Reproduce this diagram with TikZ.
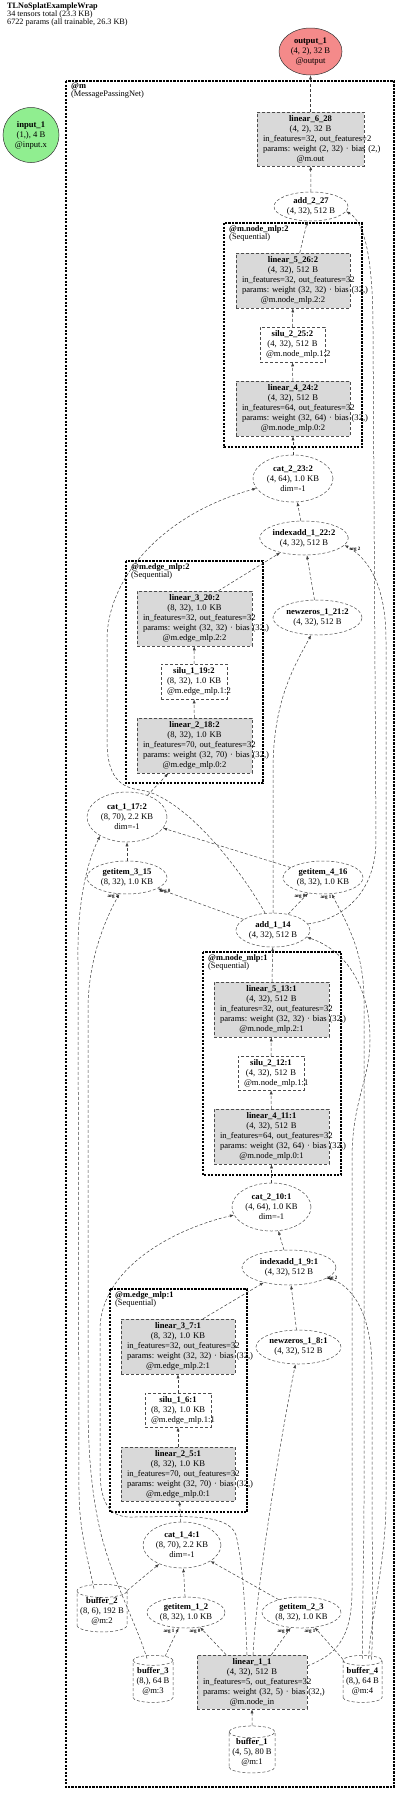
\documentclass[tikz,border=0pt]{standalone}
\usepackage{fontspec}
\setmainfont{Liberation Serif}
\usepackage{xcolor}
\usetikzlibrary{arrows.meta}
\usetikzlibrary{shapes.geometric}
\frenchspacing

\definecolor{outfill}{HTML}{F48A8A}
\definecolor{infill}{HTML}{90EE90}
\definecolor{linfill}{HTML}{D9D9D9}

\tikzset{
  nodebox/.style={draw=black!70, line width=0.5pt, dash pattern=on 3pt off 2pt,
    inner sep=0pt, align=center, font=\fontsize{8.6}{10}\selectfont},
  linbox/.style={nodebox, rectangle, fill=linfill},
  silubox/.style={nodebox, rectangle, fill=white},
  opnode/.style={nodebox, ellipse, fill=white},
  bufnode/.style={nodebox, cylinder, shape border rotate=90, aspect=0.3, fill=white},
  ionode/.style={ellipse, draw=black!80, line width=0.5pt, inner sep=0pt,
    align=center, font=\fontsize{8.6}{10}\selectfont},
  cluster/.style={draw=black, line width=2.6pt, dash pattern=on 2.2pt off 1.3pt},
  clabel/.style={anchor=north west, inner sep=0pt, align=left,
    font=\fontsize{8.4}{8}\selectfont},
  arglabel/.style={inner sep=0pt, font=\fontsize{5}{5}\selectfont\bfseries},
  edge/.style={draw=black!75, line width=0.5pt, dash pattern=on 3pt off 2pt,
    -{Latex[length=4pt,width=3pt]}}
}

\begin{document}
\begin{tikzpicture}[x=1pt,y=-1pt]
\useasboundingbox (0,0) rectangle (400,1794);

% title
\node[anchor=north west, inner sep=0pt, align=left, font=\fontsize{8.2}{7.8}\selectfont] (title) at (7,3)
  {\textbf{TLNoSplatExampleWrap}\\34 tensors total (23.3 KB)\\6722 params (all trainable, 26.3 KB)};

% input and output
\node[ionode, fill=outfill, minimum width=63pt, minimum height=47pt] (out1) at (310.5,51.5)
  {\textbf{output\_1}\\(4, 2), 32 B\\@output};
\node[ionode, fill=infill, minimum width=56pt, minimum height=55pt] (in1) at (31,135)
  {\textbf{input\_1}\\(1,), 4 B\\@input.x};

% second layer
\node[linbox, minimum width=107pt, minimum height=54pt, text width=95pt] (lin628) at (310.5,139)
  {\mbox{\textbf{linear\_6\_28}}\\\mbox{(4, 2), 32 B}\\\mbox{in\_features=32, out\_features=2}\\\mbox{params: weight (2, 32) · bias (2,)}\\\mbox{@m.out}};
\node[opnode, minimum width=74pt, minimum height=29pt] (add227) at (311,206.5)
  {\textbf{add\_2\_27}\\(4, 32), 512 B};
\node[linbox, minimum width=114pt, minimum height=55pt, text width=102pt] (lin5262) at (293,280.5)
  {\mbox{\textbf{linear\_5\_26:2}}\\\mbox{(4, 32), 512 B}\\\mbox{in\_features=32, out\_features=32}\\\mbox{params: weight (32, 32) · bias (32,)}\\\mbox{@m.node\_mlp.2:2}};
\node[silubox, minimum width=65pt, minimum height=35pt, text width=53pt] (silu2252) at (292.5,344.5)
  {\mbox{\textbf{silu\_2\_25:2}}\\\mbox{(4, 32), 512 B}\\\mbox{@m.node\_mlp.1:2}};
\node[linbox, minimum width=114pt, minimum height=55pt, text width=102pt] (lin4242) at (293,408.5)
  {\mbox{\textbf{linear\_4\_24:2}}\\\mbox{(4, 32), 512 B}\\\mbox{in\_features=64, out\_features=32}\\\mbox{params: weight (32, 64) · bias (32,)}\\\mbox{@m.node\_mlp.0:2}};
\node[opnode, minimum width=80pt, minimum height=47pt] (cat2232) at (293,478.5)
  {\textbf{cat\_2\_23:2}\\(4, 64), 1.0 KB\\dim=-1};
\node[opnode, minimum width=88pt, minimum height=34pt] (idx1222) at (304,538)
  {\textbf{indexadd\_1\_22:2}\\(4, 32), 512 B};
\node[opnode, minimum width=89pt, minimum height=35pt] (nz1212) at (317.5,617.5)
  {\textbf{newzeros\_1\_21:2}\\(4, 32), 512 B};
\node[linbox, minimum width=115pt, minimum height=55pt, text width=103pt] (lin3202) at (194.5,618.5)
  {\mbox{\textbf{linear\_3\_20:2}}\\\mbox{(8, 32), 1.0 KB}\\\mbox{in\_features=32, out\_features=32}\\\mbox{params: weight (32, 32) · bias (32,)}\\\mbox{@m.edge\_mlp.2:2}};
\node[silubox, minimum width=66pt, minimum height=35pt, text width=54pt] (silu1192) at (194,681.5)
  {\mbox{\textbf{silu\_1\_19:2}}\\\mbox{(8, 32), 1.0 KB}\\\mbox{@m.edge\_mlp.1:2}};
\node[linbox, minimum width=115pt, minimum height=55pt, text width=103pt] (lin2182) at (194.5,745.5)
  {\mbox{\textbf{linear\_2\_18:2}}\\\mbox{(8, 32), 1.0 KB}\\\mbox{in\_features=70, out\_features=32}\\\mbox{params: weight (32, 70) · bias (32,)}\\\mbox{@m.edge\_mlp.0:2}};
\node[opnode, minimum width=80pt, minimum height=50pt] (cat1172) at (127,817)
  {\textbf{cat\_1\_17:2}\\(8, 70), 2.2 KB\\dim=-1};
\node[opnode, minimum width=80pt, minimum height=33pt] (gi315) at (127,877.5)
  {\textbf{getitem\_3\_15}\\(8, 32), 1.0 KB};
\node[opnode, minimum width=80pt, minimum height=33pt] (gi416) at (323,877.5)
  {\textbf{getitem\_4\_16}\\(8, 32), 1.0 KB};

% first layer
\node[opnode, minimum width=74pt, minimum height=34pt] (add114) at (273,930)
  {\textbf{add\_1\_14}\\(4, 32), 512 B};
\node[linbox, minimum width=115pt, minimum height=55pt, text width=103pt] (lin5131) at (271.5,1009.5)
  {\mbox{\textbf{linear\_5\_13:1}}\\\mbox{(4, 32), 512 B}\\\mbox{in\_features=32, out\_features=32}\\\mbox{params: weight (32, 32) · bias (32,)}\\\mbox{@m.node\_mlp.2:1}};
\node[silubox, minimum width=66pt, minimum height=34pt, text width=54pt] (silu2121) at (271,1073)
  {\mbox{\textbf{silu\_2\_12:1}}\\\mbox{(4, 32), 512 B}\\\mbox{@m.node\_mlp.1:1}};
\node[linbox, minimum width=115pt, minimum height=55pt, text width=103pt] (lin4111) at (271.5,1136.5)
  {\mbox{\textbf{linear\_4\_11:1}}\\\mbox{(4, 32), 512 B}\\\mbox{in\_features=64, out\_features=32}\\\mbox{params: weight (32, 64) · bias (32,)}\\\mbox{@m.node\_mlp.0:1}};
\node[opnode, minimum width=79pt, minimum height=48pt] (cat2101) at (271.5,1207)
  {\textbf{cat\_2\_10:1}\\(4, 64), 1.0 KB\\dim=-1};
\node[opnode, minimum width=94pt, minimum height=35pt] (idx191) at (289,1267.5)
  {\textbf{indexadd\_1\_9:1}\\(4, 32), 512 B};
\node[opnode, minimum width=85pt, minimum height=34pt] (nz181) at (298.5,1347)
  {\textbf{newzeros\_1\_8:1}\\(4, 32), 512 B};
\node[linbox, minimum width=114pt, minimum height=55pt, text width=102pt] (lin371) at (178,1346.5)
  {\mbox{\textbf{linear\_3\_7:1}}\\\mbox{(8, 32), 1.0 KB}\\\mbox{in\_features=32, out\_features=32}\\\mbox{params: weight (32, 32) · bias (32,)}\\\mbox{@m.edge\_mlp.2:1}};
\node[silubox, minimum width=66pt, minimum height=34pt, text width=54pt] (silu161) at (178,1410)
  {\mbox{\textbf{silu\_1\_6:1}}\\\mbox{(8, 32), 1.0 KB}\\\mbox{@m.edge\_mlp.1:1}};
\node[linbox, minimum width=114pt, minimum height=54pt, text width=102pt] (lin251) at (178,1474)
  {\mbox{\textbf{linear\_2\_5:1}}\\\mbox{(8, 32), 1.0 KB}\\\mbox{in\_features=70, out\_features=32}\\\mbox{params: weight (32, 70) · bias (32,)}\\\mbox{@m.edge\_mlp.0:1}};
\node[opnode, minimum width=78pt, minimum height=46pt] (cat141) at (182,1545)
  {\textbf{cat\_1\_4:1}\\(8, 70), 2.2 KB\\dim=-1};
\node[opnode, minimum width=78pt, minimum height=31pt] (gi12) at (186,1612.5)
  {\textbf{getitem\_1\_2}\\(8, 32), 1.0 KB};
\node[opnode, minimum width=79pt, minimum height=31pt] (gi23) at (301.5,1612.5)
  {\textbf{getitem\_2\_3}\\(8, 32), 1.0 KB};
\node[linbox, minimum width=110pt, minimum height=54pt, text width=98pt] (lin11) at (252,1682)
  {\mbox{\textbf{linear\_1\_1}}\\\mbox{(4, 32), 512 B}\\\mbox{in\_features=5, out\_features=32}\\\mbox{params: weight (32, 5) · bias (32,)}\\\mbox{@m.node\_in}};

% buffers
\node[bufnode, minimum width=50pt, minimum height=47pt] (buf2) at (102,1611.5)
  {\textbf{buffer\_2}\\(8, 6), 192 B\\@m:2};
\node[bufnode, minimum width=40pt, minimum height=47pt] (buf3) at (153,1681.5)
  {\textbf{buffer\_3}\\(8,), 64 B\\@m:3};
\node[bufnode, minimum width=39pt, minimum height=47pt] (buf4) at (362.5,1681.5)
  {\textbf{buffer\_4}\\(8,), 64 B\\@m:4};
\node[bufnode, minimum width=46pt, minimum height=47pt] (buf1) at (252,1752.5)
  {\textbf{buffer\_1}\\(4, 5), 80 B\\@m:1};

% clusters
\draw[cluster] (66,81) rectangle (394,1787);
\node[clabel] (lblm) at (71,83) {\textbf{@m}\\(MessagePassingNet)};
\draw[cluster] (224,223) rectangle (362,447);
\node[clabel] (lblnm2) at (229,225) {\textbf{@m.node\_mlp:2}\\(Sequential)};
\draw[cluster] (126,561) rectangle (263,783);
\node[clabel] (lblem2) at (131,563) {\textbf{@m.edge\_mlp:2}\\(Sequential)};
\draw[cluster] (203,952) rectangle (341,1175);
\node[clabel] (lblnm1) at (208,954) {\textbf{@m.node\_mlp:1}\\(Sequential)};
\draw[cluster] (110,1289) rectangle (247,1512);
\node[clabel] (lblem1) at (115,1291) {\textbf{@m.edge\_mlp:1}\\(Sequential)};

% short edges
\draw[edge] (lin628) -- (out1);
\draw[edge] (add227) -- (lin628);
\draw[edge] (lin5262) -- (add227);
\draw[edge] (silu2252) -- (lin5262);
\draw[edge] (lin4242) -- (silu2252);
\draw[edge] (cat2232) -- (lin4242);
\draw[edge] (idx1222) -- (cat2232);
\draw[edge] (nz1212) -- (idx1222);
\draw[edge] ([xshift=24pt]lin3202.north) -- (idx1222);
\draw[edge] (silu1192) -- (lin3202);
\draw[edge] (lin2182) -- (silu1192);
\draw[edge] (cat1172) -- (lin2182);
\draw[edge] (gi315) -- (cat1172);
\draw[edge] (gi416) -- (cat1172);
\draw[edge] (add114) -- (gi315);
\draw[edge] (add114) -- (gi416);
\draw[edge] (lin5131) -- (add114);
\draw[edge] (silu2121) -- (lin5131);
\draw[edge] (lin4111) -- (silu2121);
\draw[edge] (cat2101) -- (lin4111);
\draw[edge] (idx191) -- (cat2101);
\draw[edge] (nz181) -- (idx191);
\draw[edge] ([xshift=25pt]lin371.north) -- (idx191);
\draw[edge] (silu161) -- (lin371);
\draw[edge] (lin251) -- (silu161);
\draw[edge] (cat141) -- (lin251);
\draw[edge] (gi12) -- (cat141);
\draw[edge] (gi23) -- (cat141);
\draw[edge] (buf2) -- (cat141);
\draw[edge] (buf3) -- (gi12);
\draw[edge] (lin11) -- (gi12);
\draw[edge] (lin11) -- (gi23);
\draw[edge] (buf4) -- (gi23);
\draw[edge] (buf1) -- (lin11);

% long edges
\draw[edge] (add114.115) .. controls (235,860) and (180,795) .. (140,790)
  .. controls (115,787) and (107,770) .. (107,740) -- (107,640)
  .. controls (107,580) and (160,515) .. (cat2232.195);
\draw[edge] (add114.north) -- (273,770) .. controls (273,700) and (295,665) .. (nz1212.-110);
\draw[edge] (add114.10) .. controls (340,920) and (376,895) .. (376,840) -- (373,330)
  .. controls (373,260) and (365,222) .. (add227.-8);
\draw[edge] ([xshift=6pt,yshift=23pt]buf4.center) .. controls (372,1610) and (386,1560) .. (386,1500)
  -- (386,640) .. controls (386,585) and (368,558) .. (idx1222.-10);
\draw[edge] ([yshift=23pt]buf4.center) .. controls (362,1610) and (364,1560) .. (364,1500)
  -- (364,1000) .. controls (364,950) and (345,920) .. (gi416.-62);
\draw[edge] ([xshift=9pt,yshift=22pt]buf4.center) .. controls (374,1610) and (372,1560) .. (372,1500)
  -- (372,1370) .. controls (372,1310) and (350,1285) .. (idx191.-15);
\draw[edge] ([yshift=16pt]lin11.east) .. controls (335,1655) and (352,1640) .. (352,1590)
  -- (352,1160) .. controls (352,1100) and (370,1080) .. (370,1040)
  .. controls (370,985) and (345,950) .. (add114.-12);
\draw[edge] ([xshift=-8pt,yshift=23pt]buf2.center) .. controls (88,1560) and (79,1530) .. (79,1490)
  -- (78,960) .. controls (77,900) and (88,860) .. (cat1172.215);
\draw[edge] ([xshift=-6pt,yshift=23pt]buf3.center) .. controls (135,1620) and (112,1580) .. (100,1530)
  .. controls (91,1490) and (88,1450) .. (88,1400) -- (88,1010)
  .. controls (88,960) and (105,920) .. (gi315.-115);
\draw[edge] ([xshift=-5pt]lin11.north) .. controls (245,1600) and (242,1560) .. (236,1535)
  .. controls (228,1512) and (180,1517) .. (130,1517)
  .. controls (108,1517) and (100,1500) .. (100,1470) -- (100,1330)
  .. controls (100,1270) and (170,1230) .. (cat2101.192);
\draw[edge] ([xshift=1pt]lin11.north) .. controls (257,1580) and (282,1430) .. (nz181.-100);

% argument labels
\node[arglabel] (a1gi315) at (113,896) {arg 1};
\node[arglabel] (a0gi315) at (165,891) {arg 0};
\node[arglabel] (a0gi416) at (300,896) {arg 0};
\node[arglabel] (a1gi416) at (326,897) {arg 1};
\node[arglabel] (a1gi12) at (169,1631) {arg 1};
\node[arglabel] (a0gi12) at (195,1631) {arg 0};
\node[arglabel] (a0gi23) at (283,1631) {arg 0};
\node[arglabel] (a1gi23) at (310,1631) {arg 1};
\node[arglabel] (a2idx1222) at (355,549) {arg 2};
\node[arglabel] (a2idx191) at (332,1278) {arg 2};
\end{tikzpicture}
\end{document}
